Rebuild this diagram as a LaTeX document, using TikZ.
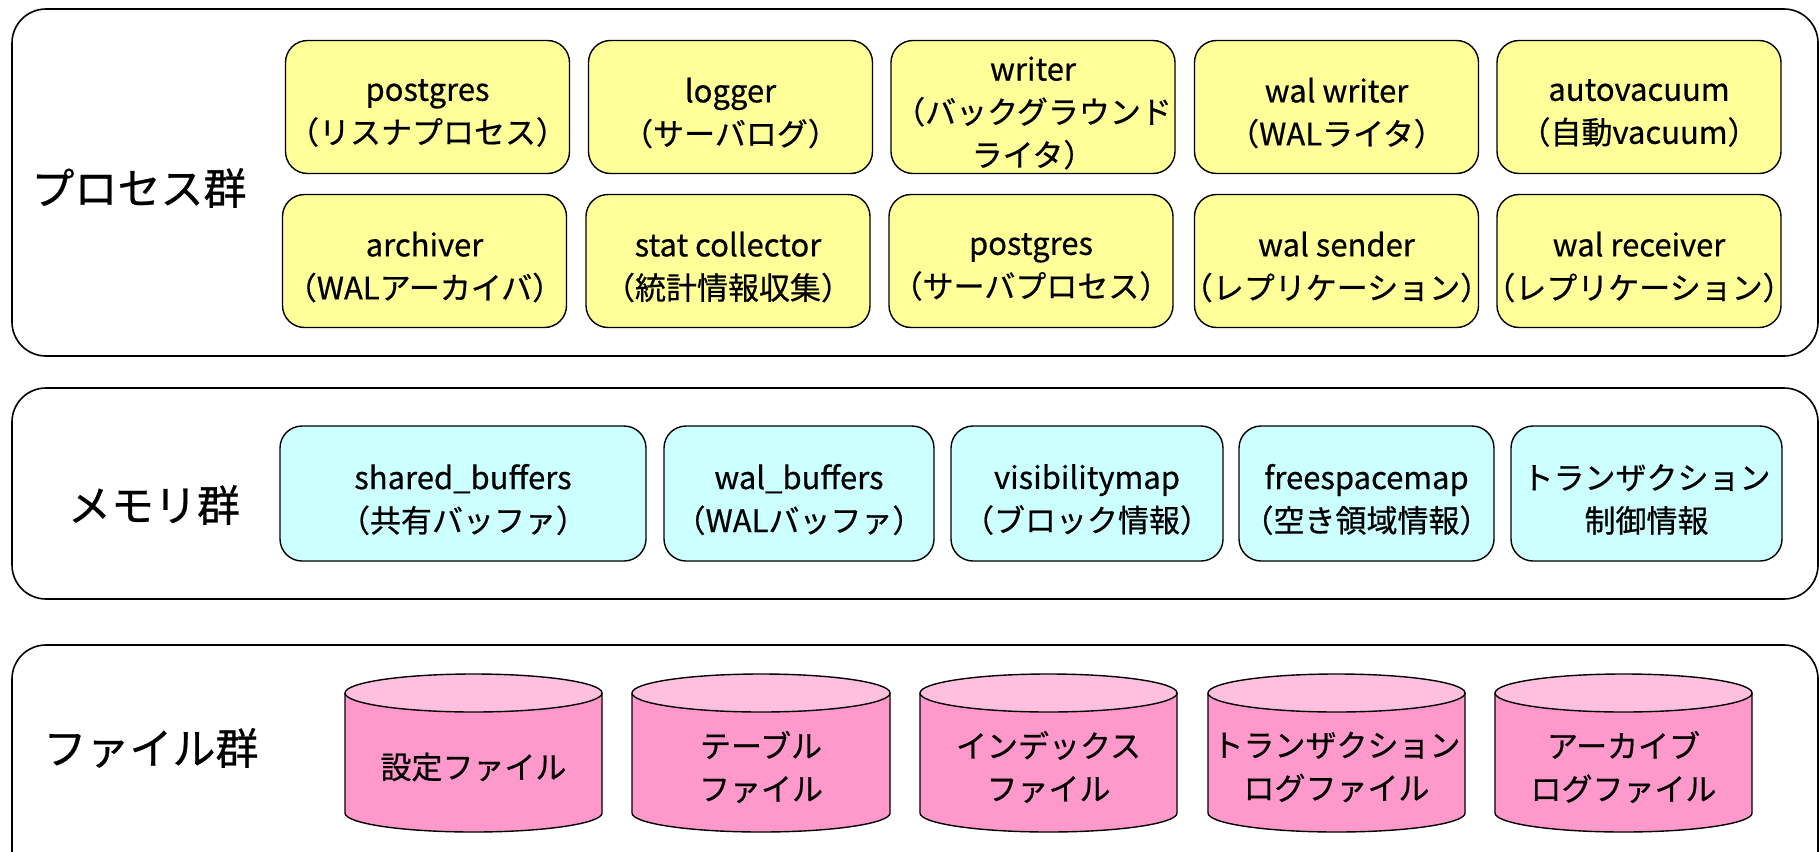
\documentclass[tikz,border=0pt]{standalone}
\usepackage{fontspec}
\setmainfont{Noto Sans CJK JP}[FakeBold=0.6]
\definecolor{procfill}{HTML}{FFFF99}
\definecolor{memfill}{HTML}{CCFFFF}
\definecolor{filebody}{HTML}{FF99CC}
\definecolor{filetop}{HTML}{FFC0E0}
\tikzset{
  group/.style={draw=black, line width=1.6pt, rounded corners=34pt, fill=white},
  grouplabel/.style={font=\fontsize{43}{50}\selectfont, inner sep=0pt},
  procbox/.style={draw=black, line width=1.4pt, rounded corners=22pt, fill=procfill,
    minimum width=284pt, minimum height=133pt},
  membox/.style={draw=black, line width=1.4pt, rounded corners=22pt, fill=memfill,
    minimum height=135pt},
  boxtext/.style={align=center, inner sep=0pt, font=\fontsize{31}{43}\selectfont},
  cylline/.style={draw=black, line width=1.4pt}
}
% \pbox{style}{name}{x}{y}{text}
\newcommand{\pbox}[5]{%
  \node[#1] (#2) at (#3,#4) {};
  \node[boxtext] (#2t) at ([yshift=-6pt]#2.center) {#5};%
}
% \dbcyl{name}{left x}{right x}{text}
\newcommand{\dbcyl}[4]{%
  \pgfmathsetmacro{\rxv}{(#3-#2)/2}%
  \pgfmathsetmacro{\cxv}{(#3+#2)/2}%
  \fill[filebody] (#2,-693) -- (#2,-813) arc[start angle=180, end angle=360, x radius=\rxv, y radius=19] -- (#3,-693) -- cycle;
  \draw[cylline] (#2,-693) -- (#2,-813) arc[start angle=180, end angle=360, x radius=\rxv, y radius=19] -- (#3,-693);
  \draw[cylline, fill=filetop] (\cxv,-693) ellipse[x radius=\rxv, y radius=19];
  \node[boxtext] (#1) at (\cxv,-767) {#4};%
}
\begin{document}
\begin{tikzpicture}[x=1pt, y=1pt]
\useasboundingbox (0,0) rectangle (1819,-851);

% group frames
\draw[group] (12,-9) rectangle (1818,-356);
\draw[group] (12,-388) rectangle (1818,-599);
\draw[group] (12,-645) rectangle (1818,-890);

\node[grouplabel] (lproc) at (139,-188) {プロセス群};
\node[grouplabel] (lmem) at (154,-505) {メモリ群};
\node[grouplabel] (lfile) at (151,-748) {ファイル群};

% processes row 1
\pbox{procbox}{p1}{427.5}{-107}{postgres\\（リスナプロセス）}
\pbox{procbox}{p2}{730.5}{-107}{logger\\（サーバログ）}
\pbox{procbox}{p3}{1033}{-107}{writer\\（バックグラウンド\\ライタ）}
\pbox{procbox}{p4}{1336.5}{-107}{wal writer\\（WALライタ）}
\pbox{procbox}{p5}{1639}{-107}{autovacuum\\（自動vacuum）}
% processes row 2
\pbox{procbox}{p6}{424.5}{-261}{archiver\\（WALアーカイバ）}
\pbox{procbox}{p7}{728}{-261}{stat collector\\（統計情報収集）}
\pbox{procbox}{p8}{1031}{-261}{postgres\\（サーバプロセス）}
\pbox{procbox}{p9}{1336.5}{-261}{wal sender\\（レプリケーション）}
\pbox{procbox}{p10}{1639}{-261}{wal receiver\\（レプリケーション）}

% memory
\pbox{membox, minimum width=366pt}{m1}{463}{-493.5}{shared\_buffers\\（共有バッファ）}
\pbox{membox, minimum width=270pt}{m2}{799}{-493.5}{wal\_buffers\\（WALバッファ）}
\pbox{membox, minimum width=272pt}{m3}{1087}{-493.5}{visibilitymap\\（ブロック情報）}
\pbox{membox, minimum width=255pt}{m4}{1366.5}{-493.5}{freespacemap\\（空き領域情報）}
\pbox{membox, minimum width=271pt}{m5}{1646.5}{-493.5}{トランザクション\\制御情報}

% files
\dbcyl{f1}{345}{602}{設定ファイル}
\dbcyl{f2}{632}{890}{テーブル\\ファイル}
\dbcyl{f3}{920}{1177}{インデックス\\ファイル}
\dbcyl{f4}{1208}{1465}{トランザクション\\ログファイル}
\dbcyl{f5}{1495}{1752}{アーカイブ\\ログファイル}
\end{tikzpicture}
\end{document}
